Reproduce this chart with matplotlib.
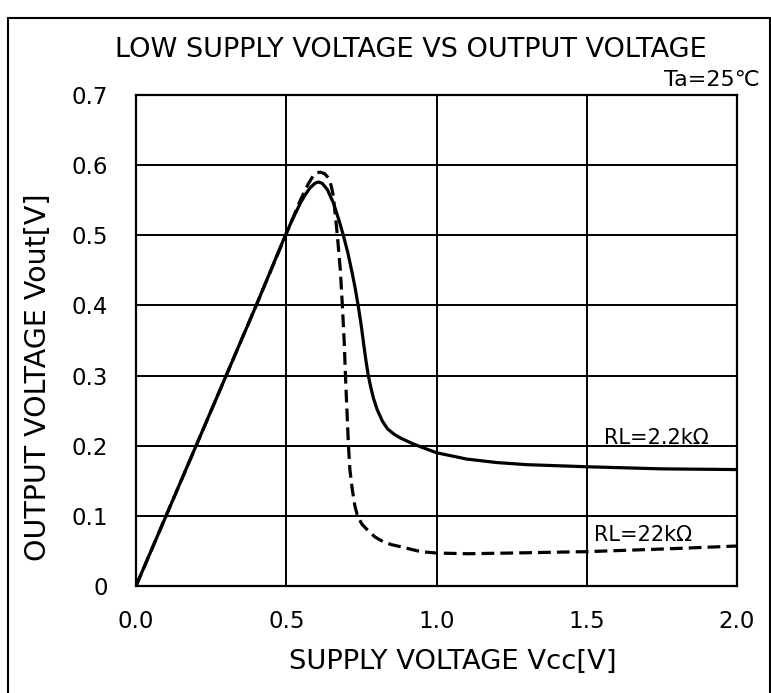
import numpy as np
import matplotlib
matplotlib.use("Agg")
import matplotlib.pyplot as plt
from matplotlib.patches import Rectangle

# RL = 2.2 kOhm (solid)
vcc_22k2 = [0.0, 0.1, 0.2, 0.3, 0.4, 0.497, 0.52, 0.547, 0.565, 0.58, 0.595,
            0.607, 0.62, 0.637, 0.657, 0.675, 0.69, 0.705, 0.72, 0.73, 0.74,
            0.75, 0.757, 0.765, 0.773, 0.782, 0.79, 0.803, 0.82, 0.837, 0.86,
            0.88, 0.92, 0.95, 1.0, 1.1, 1.2, 1.3, 1.5, 1.75, 2.0]
vout_22k2 = [0.0, 0.1, 0.2, 0.3, 0.4, 0.5, 0.522, 0.546, 0.559, 0.568, 0.574,
             0.576, 0.574, 0.565, 0.546, 0.522, 0.5, 0.475, 0.445, 0.423, 0.398,
             0.37, 0.347, 0.322, 0.3, 0.282, 0.268, 0.251, 0.235, 0.224, 0.216,
             0.211, 0.203, 0.198, 0.19, 0.181, 0.176, 0.173, 0.17, 0.167, 0.166]

# RL = 22 kOhm (dashed)
vcc_22k = [0.0, 0.1, 0.2, 0.3, 0.4, 0.5, 0.547, 0.573, 0.59, 0.6, 0.613,
           0.627, 0.64, 0.65, 0.657, 0.663, 0.67, 0.68, 0.687, 0.693, 0.697,
           0.702, 0.707, 0.712, 0.72, 0.728, 0.737, 0.752, 0.77, 0.795, 0.823,
           0.85, 0.88, 0.947, 1.0, 1.103, 1.247, 1.503, 1.77, 2.0]
vout_22k = [0.0, 0.1, 0.2, 0.3, 0.4, 0.502, 0.55, 0.573, 0.585, 0.589, 0.59,
            0.588, 0.582, 0.57, 0.555, 0.53, 0.5, 0.45, 0.398, 0.347, 0.3,
            0.25, 0.2, 0.165, 0.137, 0.115, 0.1, 0.088, 0.08, 0.07, 0.063,
            0.059, 0.056, 0.049, 0.047, 0.046, 0.047, 0.049, 0.053, 0.057]

x_ticks = [0.0, 0.5, 1.0, 1.5, 2.0]
x_labels = ["0.0", "0.5", "1.0", "1.5", "2.0"]
y_ticks = [0.0, 0.1, 0.2, 0.3, 0.4, 0.5, 0.6, 0.7]
y_labels = ["0", "0.1", "0.2", "0.3", "0.4", "0.5", "0.6", "0.7"]

fs = 16.5

fig = plt.figure(figsize=(7.71, 6.93), dpi=100)
ax = fig.add_axes([136 / 771, 107 / 693, 601 / 771, 491 / 693])

ax.plot(vcc_22k2, vout_22k2, color="black", lw=2.3, solid_joinstyle="round")
ax.plot(vcc_22k, vout_22k, color="black", lw=2.3, dashes=(4, 1.9))

ax.set_xlim(0, 2.0)
ax.set_ylim(0, 0.7)
ax.set_xticks(x_ticks)
ax.set_xticklabels(x_labels)
ax.set_yticks(y_ticks)
ax.set_yticklabels(y_labels)
ax.tick_params(length=0, labelsize=fs)
ax.tick_params(axis="x", pad=17)
ax.tick_params(axis="y", pad=20)
ax.grid(True, color="black", lw=1.4)
ax.set_axisbelow(True)
for s in ax.spines.values():
    s.set_linewidth(1.6)

ax.text(1.733, 0.203, "RL=2.2k\u03a9", fontsize=15, ha="center", va="baseline")
ax.text(1.688, 0.064, "RL=22k\u03a9", fontsize=15, ha="center", va="baseline")

fig.text(411 / 771, 1 - 50 / 693, "LOW SUPPLY VOLTAGE VS OUTPUT VOLTAGE",
         fontsize=19.5, ha="center", va="center")
fig.text(760 / 771, 1 - 80 / 693, "Ta=25\u2103", fontsize=16, ha="right", va="center")
fig.text(38 / 771, 1 - 377 / 693, "OUTPUT VOLTAGE Vout[V]", fontsize=20.5,
         rotation=90, ha="center", va="center")
fig.text(453 / 771, 1 - 662 / 693, "SUPPLY VOLTAGE Vcc[V]", fontsize=19.7,
         ha="center", va="center")

# outer frame
fig.patches.append(Rectangle((8 / 771, -0.05), 762 / 771, 1.05 - 18 / 693,
                             transform=fig.transFigure, fill=False,
                             edgecolor="black", lw=1.5))

fig.savefig("out.png", dpi=100)
